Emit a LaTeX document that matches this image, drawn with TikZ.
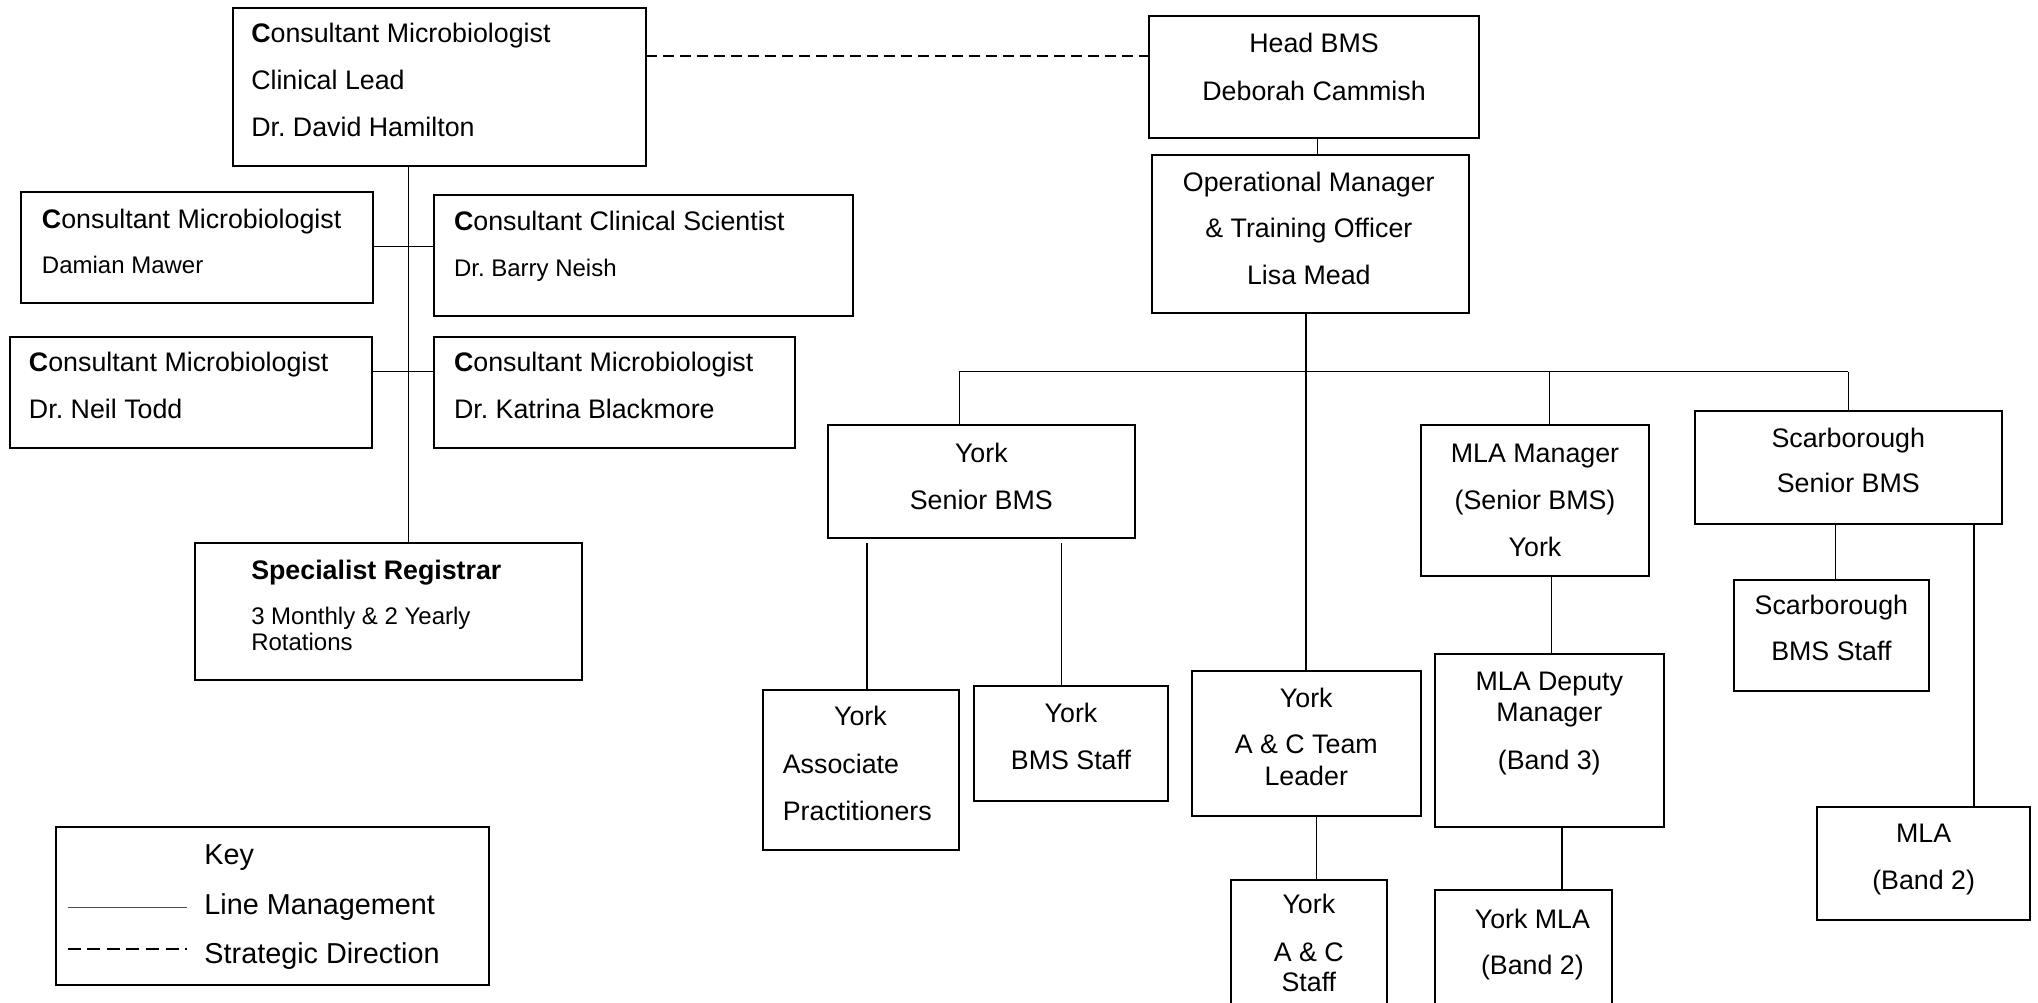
\documentclass[tikz,border=0pt]{standalone}
\usepackage{fontspec}
\setmainfont{Liberation Sans}
\usetikzlibrary{calc}
\frenchspacing
\newcommand\orgbox[5]{\node[box, minimum width={(#4-#2)*0.65pt}, minimum height={(#5-#3)*0.65pt}] (#1) at ({(#2+#4)/2},{(#3+#5)/2}) {};}
\begin{document}
\frenchspacing
\begin{tikzpicture}[x=0.65pt,y=-0.65pt,
  box/.style={draw, line width=1pt, inner sep=0pt, outer sep=0pt, rectangle},
  tx/.style={inner sep=0pt, yshift=-2.6pt, font=\fontsize{13.4}{16}\selectfont},
  sm/.style={inner sep=0pt, yshift=-2.4pt, font=\fontsize{12}{14}\selectfont},
  kt/.style={inner sep=0pt, yshift=-2.8pt, font=\fontsize{14.4}{17}\selectfont},
  thinline/.style={line width=0.5pt},
  thickline/.style={line width=0.9pt},
  dashline/.style={line width=0.8pt, dash pattern=on 5.5pt off 3pt}]
\useasboundingbox (0,0) rectangle (1568,771);
\clip (0,0) rectangle (1568,771);
% ---------- boxes ----------
\orgbox{cl}{179}{6}{497}{128}
\orgbox{dam}{16}{148}{287}{233}
\orgbox{bar}{334}{150}{656}{243}
\orgbox{neil}{8}{259}{286}{345}
\orgbox{kat}{334}{259}{612}{345}
\orgbox{reg}{150}{418}{448}{523}
\orgbox{key}{43}{636}{376}{758}
\orgbox{hb}{884}{12}{1138}{106}
\orgbox{op}{886}{119}{1130}{241}
\orgbox{ysb}{637}{327}{873}{414}
\orgbox{yap}{587}{531}{738}{654}
\orgbox{ybs}{749}{528}{899}{616}
\orgbox{yac}{917}{516}{1093}{628}
\orgbox{yacs}{947}{677}{1067}{800}
\orgbox{mlam}{1093}{327}{1269}{443}
\orgbox{mlad}{1104}{503}{1280}{636}
\orgbox{ymla}{1104}{685}{1240}{800}
\orgbox{ssb}{1304}{316}{1540}{403}
\orgbox{sbs}{1334}{446}{1484}{532}
\orgbox{mla}{1398}{621}{1562}{708}
% ---------- texts, left ----------
\node[tx, anchor=mid west] (cl1) at (193,25) {\textbf{C}onsultant Microbiologist};
\node[tx, anchor=mid west] (cl2) at (193,61) {Clinical Lead};
\node[tx, anchor=mid west] (cl3) at (193,97) {Dr. David Hamilton};
\node[tx, anchor=mid west] (dam1) at (32,168) {\textbf{C}onsultant Microbiologist};
\node[sm, anchor=mid west] (dam2) at (32,203) {Damian Mawer};
\node[tx, anchor=mid west] (bar1) at (349,169) {\textbf{C}onsultant Clinical Scientist};
\node[sm, anchor=mid west] (bar2) at (349,205) {Dr. Barry Neish};
\node[tx, anchor=mid west] (neil1) at (22,278) {\textbf{C}onsultant Microbiologist};
\node[tx, anchor=mid west] (neil2) at (22,314) {Dr. Neil Todd};
\node[tx, anchor=mid west] (kat1) at (349,278) {\textbf{C}onsultant Microbiologist};
\node[tx, anchor=mid west] (kat2) at (349,314) {Dr. Katrina Blackmore};
\node[tx, anchor=mid west] (reg1) at (193,438) {\textbf{Specialist Registrar}};
\node[sm, anchor=mid west] (reg2) at (193,473) {3 Monthly \& 2 Yearly};
\node[sm, anchor=mid west] (reg3) at (193,493) {Rotations};
\node[kt, anchor=mid west] (key1) at (157,657) {Key};
\node[kt, anchor=mid west] (key2) at (157,695) {Line Management};
\node[kt, anchor=mid west] (key3) at (157,733) {Strategic Direction};
\draw[line width=0.5pt, black!70] (52,698) -- (144,698);
\draw[line width=0.8pt, dash pattern=on 6.5pt off 3.3pt] (52,730) -- (144,730);
% ---------- texts, right ----------
\node[tx, anchor=mid] (hb1) at (1011,32) {Head BMS};
\node[tx, anchor=mid] (hb2) at (1011,69) {Deborah Cammish};
\node[tx, anchor=mid] (op1) at (1007,139) {Operational Manager};
\node[tx, anchor=mid] (op2) at (1007,175) {\& Training Officer};
\node[tx, anchor=mid] (op3) at (1007,211) {Lisa Mead};
\node[tx, anchor=mid] (ysb1) at (755,348) {York};
\node[tx, anchor=mid] (ysb2) at (755,384) {Senior BMS};
\node[tx, anchor=mid] (yap1) at (662,550) {York};
\node[tx, anchor=mid west] (yap2) at (602,587) {Associate};
\node[tx, anchor=mid west] (yap3) at (602,623) {Practitioners};
\node[tx, anchor=mid] (ybs1) at (824,548) {York};
\node[tx, anchor=mid] (ybs2) at (824,584) {BMS Staff};
\node[tx, anchor=mid] (yac1) at (1005,536) {York};
\node[tx, anchor=mid] (yac2) at (1005,572) {A \& C Team};
\node[tx, anchor=mid] (yac3) at (1005,596) {Leader};
\node[tx, anchor=mid] (yacs1) at (1007,695) {York};
\node[tx, anchor=mid] (yacs2) at (1007,732) {A \& C};
\node[tx, anchor=mid] (yacs3) at (1007,755) {Staff};
\node[tx, anchor=mid] (mlam1) at (1181,348) {MLA Manager};
\node[tx, anchor=mid] (mlam2) at (1181,384) {(Senior BMS)};
\node[tx, anchor=mid] (mlam3) at (1181,420) {York};
\node[tx, anchor=mid] (mlad1) at (1192,523) {MLA Deputy};
\node[tx, anchor=mid] (mlad2) at (1192,547) {Manager};
\node[tx, anchor=mid] (mlad3) at (1192,584) {(Band 3)};
\node[tx, anchor=mid] (ymla1) at (1179,706) {York MLA};
\node[tx, anchor=mid] (ymla2) at (1179,742) {(Band 2)};
\node[tx, anchor=mid] (ssb1) at (1422,336) {Scarborough};
\node[tx, anchor=mid] (ssb2) at (1422,371) {Senior BMS};
\node[tx, anchor=mid] (sbs1) at (1409,465) {Scarborough};
\node[tx, anchor=mid] (sbs2) at (1409,500) {BMS Staff};
\node[tx, anchor=mid] (mla1) at (1480,640) {MLA};
\node[tx, anchor=mid] (mla2) at (1480,676) {(Band 2)};
% ---------- connectors ----------
\coordinate (vx) at (314,0);
\coordinate (h1) at (0,190);
\coordinate (h2) at (0,286);
\draw[thinline] (cl.south -| vx) -- (reg.north -| vx);
\draw[thinline] (dam.east |- h1) -- (bar.west |- h1);
\draw[thinline] (neil.east |- h2) -- (kat.west |- h2);
\draw[dashline] (cl.east |- 0,43) -- (hb.west |- 0,43);
\draw[thinline] (hb.south -| 1014,0) -- (op.north -| 1014,0);
\draw[thickline] (op.south -| yac.north) -- (yac.north);
\coordinate (d1) at (738,286);
\coordinate (d3) at (1192,286);
\coordinate (d4) at (1422,286);
\draw[line width=0.7pt] (d1) -- (d4);
\draw[line width=0.7pt] (d1) -- (d1 |- ysb.north);
\draw[line width=0.7pt] (d3) -- (d3 |- mlam.north);
\draw[line width=0.7pt] (d4) -- (d4 |- ssb.north);
\coordinate (c1) at (667,418);
\coordinate (c2) at (817,418);
\draw[thickline] (c1) -- (c1 |- yap.north);
\draw[thinline] (c2) -- (c2 |- ybs.north);
\coordinate (c3) at (1013,0);
\draw[thinline] (yac.south -| c3) -- (yacs.north -| c3);
\coordinate (c4) at (1194,0);
\draw[thinline] (mlam.south -| c4) -- (mlad.north -| c4);
\coordinate (c5) at (1202,0);
\draw[thickline] (mlad.south -| c5) -- (ymla.north -| c5);
\coordinate (c6) at (1412,0);
\draw[thinline] (ssb.south -| c6) -- (sbs.north -| c6);
\coordinate (c7) at (1519,0);
\draw[thickline] (ssb.south -| c7) -- (mla.north -| c7);
\end{tikzpicture}
\end{document}
